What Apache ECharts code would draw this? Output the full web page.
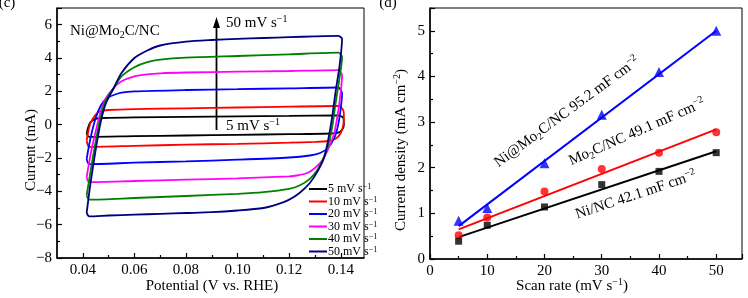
<!DOCTYPE html>
<html>
<head>
<meta charset="utf-8">
<script src="https://cdn.jsdelivr.net/npm/echarts@6/dist/echarts.min.js"></script>
<style>
html, body { margin: 0; padding: 0; background: #fff; }
#chart { width: 748px; height: 298px; }
</style>
</head>
<body>
<div id="chart"></div>
<script>
// (c) CV loops, [potential V, current mA]
const cv5 = [[0.0415,-0.55],[0.042,-0.2],[0.043,0.15],[0.045,0.35],[0.048,0.4],[0.06,0.44],[0.08,0.47],[0.10,0.5],[0.12,0.53],[0.139,0.56],[0.141,0.4],
  [0.1412,0.0],[0.1405,-0.3],[0.139,-0.48],[0.136,-0.53],[0.12,-0.57],[0.10,-0.61],[0.08,-0.65],[0.06,-0.69],[0.0425,-0.73],[0.0415,-0.55]]
const cv10 = [[0.0415,-0.95],[0.042,-0.5],[0.043,0.1],[0.045,0.6],[0.047,0.82],[0.05,0.88],[0.06,0.93],[0.08,0.98],[0.10,1.03],[0.12,1.08],[0.139,1.12],[0.141,0.85],
  [0.1412,0.5],[0.141,0.0],[0.140,-0.5],[0.138,-0.85],[0.135,-0.98],[0.13,-1.03],[0.12,-1.08],[0.10,-1.15],[0.08,-1.2],[0.06,-1.27],[0.0425,-1.33],[0.0415,-0.95]]
const cv20 = [[0.0415,-2.05],[0.043,-0.8],[0.045,0.4],[0.047,1.15],[0.049,1.55],[0.052,1.78],[0.055,1.92],[0.06,2.0],[0.08,2.08],[0.10,2.13],[0.12,2.18],[0.139,2.23],[0.1405,1.85],
  [0.140,1.0],[0.139,0.0],[0.1375,-0.8],[0.135,-1.4],[0.132,-1.7],[0.128,-1.85],[0.12,-1.97],[0.10,-2.1],[0.08,-2.2],[0.06,-2.28],[0.0425,-2.37],[0.0415,-2.05]]
const cv30 = [[0.0415,-3.15],[0.043,-1.8],[0.045,-0.4],[0.047,0.8],[0.049,1.6],[0.052,2.2],[0.055,2.6],[0.06,2.9],[0.065,3.02],[0.07,3.08],[0.08,3.13],[0.10,3.18],[0.12,3.22],[0.139,3.27],[0.1405,2.95],
  [0.140,2.0],[0.139,0.8],[0.1375,-0.5],[0.135,-1.5],[0.133,-2.1],[0.13,-2.6],[0.127,-2.9],[0.123,-3.05],[0.12,-3.1],[0.10,-3.22],[0.08,-3.3],[0.06,-3.38],[0.0425,-3.45],[0.0415,-3.15]]
const cv40 = [[0.0415,-4.25],[0.043,-2.8],[0.045,-1.0],[0.047,0.5],[0.049,1.5],[0.052,2.2],[0.055,2.9],[0.06,3.45],[0.065,3.75],[0.07,3.9],[0.08,4.02],[0.10,4.12],[0.12,4.22],[0.139,4.32],[0.1405,4.05],
  [0.1395,2.8],[0.138,1.3],[0.1365,-0.3],[0.135,-1.3],[0.133,-2.1],[0.131,-2.7],[0.128,-3.25],[0.124,-3.65],[0.12,-3.85],[0.11,-4.05],[0.10,-4.15],[0.08,-4.28],[0.06,-4.4],[0.0425,-4.5],[0.0415,-4.25]]
const cv50 = [[0.0415,-5.3],[0.043,-3.5],[0.045,-1.5],[0.047,0.2],[0.049,1.3],[0.052,2.2],[0.055,3.1],[0.06,4.0],[0.065,4.45],[0.07,4.75],[0.08,4.98],[0.09,5.08],[0.10,5.15],[0.11,5.2],[0.12,5.25],[0.13,5.3],[0.139,5.33],[0.1405,5.15],
  [0.1395,3.5],[0.138,2.0],[0.1365,0.3],[0.135,-1.0],[0.1335,-2.0],[0.131,-2.8],[0.128,-3.5],[0.124,-4.1],[0.12,-4.5],[0.115,-4.8],[0.11,-5.0],[0.10,-5.15],[0.09,-5.25],[0.08,-5.3],[0.07,-5.35],[0.06,-5.4],[0.05,-5.45],[0.0425,-5.5],[0.0415,-5.3]]
const cvNames = ['5', '10', '20', '30', '40', '50']
const cvColors = ['#000000', '#ff0000', '#0000ff', '#ff00ff', '#008000', '#000080']

// (d) current density vs scan rate
const scanRate = [5, 10, 20, 30, 40, 50]
const niMo2cNc = [0.84, 1.12, 2.10, 3.16, 4.10, 5.00]
const mo2cNc = [0.52, 0.91, 1.48, 1.97, 2.33, 2.78]
const niNc = [0.39, 0.74, 1.14, 1.63, 1.92, 2.33]
const niMo2cNcFit = [[5, 0.72], [50, 5.0]]
const mo2cNcFit = [[5, 0.65], [50, 2.84]]
const niNcFit = [[5, 0.48], [50, 2.36]]

const xTicksC = [0.04, 0.06, 0.08, 0.10, 0.12, 0.14]
const xMinorC = [0.05, 0.07, 0.09, 0.11, 0.13]

const FONT = 'Liberation Serif'
const rich = {
  sub: { fontFamily: FONT, fontSize: 10, verticalAlign: 'bottom', lineHeight: 18 },
  sup: { fontFamily: FONT, fontSize: 10, verticalAlign: 'top', lineHeight: 18 },
  n: { fontFamily: FONT, fontSize: 15, lineHeight: 18 }
}
const legRich = {
  n: { fontFamily: FONT, fontSize: 12, lineHeight: 12 },
  sup: { fontFamily: FONT, fontSize: 8, verticalAlign: 'top', lineHeight: 12 }
}
const minus = v => String(v).replace('-', '\u2212')

const chart = echarts.init(document.getElementById('chart'))

function txt (x, y, text, opts) {
  return Object.assign({
    type: 'text',
    x: x,
    y: y,
    style: Object.assign({
      text: text,
      rich: rich,
      fontFamily: FONT,
      fontSize: 15,
      fill: '#000',
      align: 'center',
      verticalAlign: 'middle'
    }, (opts && opts.style) || {})
  }, opts && opts.rotation !== undefined ? { rotation: opts.rotation } : {})
}

const axisCommon = {
  axisLine: { show: true, onZero: false, lineStyle: { color: '#000', width: 1.5 } },
  axisTick: { inside: true, length: 5, lineStyle: { color: '#000', width: 1.2 } },
  minorTick: { show: true, splitNumber: 2, length: 3, lineStyle: { color: '#000', width: 1.2 } },
  axisLabel: { color: '#000', fontFamily: FONT, fontSize: 15, margin: 5, showMaxLabel: false },
  splitLine: { show: false }
}

const cvSeries = [cv5, cv10, cv20, cv30, cv40, cv50].map((d, i) => ({
  name: cvNames[i],
  type: 'line',
  xAxisIndex: 0,
  yAxisIndex: 0,
  data: d,
  symbol: 'none',
  smooth: 0.25,
  lineStyle: { color: cvColors[i], width: 1.8 },
  itemStyle: { color: cvColors[i] },
  z: 3 + i
}))

const option = {
  animation: false,
  backgroundColor: '#fff',
  grid: [
    { left: 57, top: 8, width: 307, height: 250, show: true, borderColor: '#000', borderWidth: 1 },
    { left: 430, top: 8, width: 312, height: 251, show: true, borderColor: '#000', borderWidth: 1 }
  ],
  xAxis: [
    Object.assign({}, axisCommon, {
      gridIndex: 0, type: 'value', min: 0.03, max: 0.149, position: 'bottom',
      axisTick: Object.assign({}, axisCommon.axisTick, { customValues: xTicksC }),
      minorTick: { show: false },
      axisLabel: { color: '#000', fontFamily: FONT, fontSize: 15, margin: 5, customValues: xTicksC, formatter: v => v.toFixed(2) }
    }),
    {
      gridIndex: 0, type: 'value', min: 0.03, max: 0.149, position: 'bottom',
      axisLine: { show: false, onZero: false },
      axisTick: { inside: true, length: 3, customValues: xMinorC, lineStyle: { color: '#000', width: 1.2 } },
      axisLabel: { show: false },
      splitLine: { show: false }
    },
    Object.assign({}, axisCommon, { gridIndex: 1, type: 'value', min: 0, max: 54.5, interval: 10 })
  ],
  yAxis: [
    Object.assign({}, axisCommon, {
      gridIndex: 0, type: 'value', min: -8, max: 7, interval: 2,
      axisLabel: Object.assign({}, axisCommon.axisLabel, { formatter: minus })
    }),
    Object.assign({}, axisCommon, { gridIndex: 1, type: 'value', min: 0, max: 5.5, interval: 1 })
  ],
  legend: {
    data: cvNames,
    orient: 'vertical',
    left: 304,
    top: 178,
    icon: 'rect',
    itemWidth: 18,
    itemHeight: 2,
    itemGap: 0.5,
    formatter: name => '{n|' + name + ' mV s}{sup|\u22121}',
    textStyle: { color: '#000', fontFamily: FONT, fontSize: 12, rich: legRich, padding: [0, 0, 0, -4] }
  },
  series: cvSeries.concat([
    {
      name: 'Ni@Mo2C/NC fit', type: 'line', xAxisIndex: 2, yAxisIndex: 1,
      data: niMo2cNcFit, symbol: 'none', lineStyle: { color: '#0000ff', width: 2 }
    },
    {
      name: 'Mo2C/NC fit', type: 'line', xAxisIndex: 2, yAxisIndex: 1,
      data: mo2cNcFit, symbol: 'none', lineStyle: { color: '#ff0000', width: 2 }
    },
    {
      name: 'Ni/NC fit', type: 'line', xAxisIndex: 2, yAxisIndex: 1,
      data: niNcFit, symbol: 'none', lineStyle: { color: '#000', width: 2 }
    },
    {
      name: 'Ni@Mo2C/NC', type: 'scatter', xAxisIndex: 2, yAxisIndex: 1,
      data: scanRate.map((x, i) => [x, niMo2cNc[i]]), symbol: 'triangle', symbolSize: 10,
      itemStyle: { color: '#0000ff' }, z: 5
    },
    {
      name: 'Mo2C/NC', type: 'scatter', xAxisIndex: 2, yAxisIndex: 1,
      data: scanRate.map((x, i) => [x, mo2cNc[i]]), symbol: 'circle', symbolSize: 8,
      itemStyle: { color: '#ff0000' }, z: 5
    },
    {
      name: 'Ni/NC', type: 'scatter', xAxisIndex: 2, yAxisIndex: 1,
      data: scanRate.map((x, i) => [x, niNc[i]]), symbol: 'rect', symbolSize: 7,
      itemStyle: { color: '#000' }, z: 5
    }
  ]),
  graphic: [
    txt(7, 3, '(c)'),
    txt(388, 3, '(d)'),
    txt(31, 150, '{n|Current (mA)}', { rotation: Math.PI / 2 }),
    txt(212, 286, '{n|Potential (V vs. RHE)}'),
    txt(401, 150, '{n|Current density (mA cm}{sup|\u22122}{n|)}', { rotation: Math.PI / 2 }),
    txt(572, 286, '{n|Scan rate (mV s}{sup|\u22121}{n|)}'),
    txt(70, 31, '{n|Ni@Mo}{sub|2}{n|C/NC}', { style: { align: 'left' } }),
    txt(226, 23, '{n|50 mV s}{sup|\u22121}', { style: { align: 'left' } }),
    txt(226, 126, '{n|5 mV s}{sup|\u22121}', { style: { align: 'left' } }),
    {
      type: 'line',
      shape: { x1: 216.5, y1: 130, x2: 216.5, y2: 26 },
      style: { stroke: '#000', lineWidth: 1.8 }
    },
    {
      type: 'polygon',
      shape: { points: [[216.5, 17], [213, 28], [220, 28]] },
      style: { fill: '#000' }
    },
    txt(567, 112, '{n|Ni@Mo}{sub|2}{n|C/NC 95.2 mF cm}{sup|\u22122}', { rotation: 36.4 * Math.PI / 180 }),
    txt(637, 132, '{n|Mo}{sub|2}{n|C/NC 49.1 mF cm}{sup|\u22122}', { rotation: 23.7 * Math.PI / 180 }),
    txt(636, 195, '{n|Ni/NC 42.1 mF cm}{sup|\u22122}', { rotation: 18.5 * Math.PI / 180 })
  ]
}

chart.setOption(option)
window.addEventListener('resize', () => {
  chart.resize()
})
</script>
</body>
</html>
